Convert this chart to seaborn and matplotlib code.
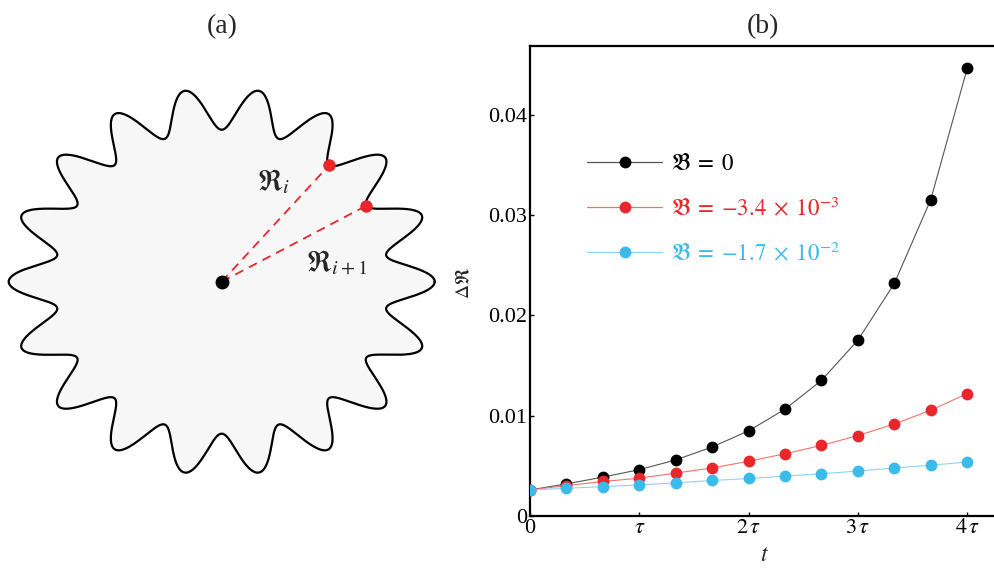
import numpy as np
import pandas as pd
import matplotlib
matplotlib.use("Agg")
import matplotlib.pyplot as plt
from matplotlib.lines import Line2D
import seaborn as sns

sns.set_theme(style="white")
plt.rcParams["font.family"] = ["Liberation Serif", "DejaVu Serif"]
plt.rcParams["mathtext.fontset"] = "stix"

# === data (b) ===
t_tau = [0, 1/3, 2/3, 1, 4/3, 5/3, 2, 7/3, 8/3, 3, 10/3, 11/3, 4]
dR_b0 = [0.00260, 0.00320, 0.00388, 0.00462, 0.00559, 0.00688, 0.00849,
         0.01065, 0.01352, 0.01753, 0.02319, 0.03155, 0.04462]
dR_b1 = [0.00260, 0.00303, 0.00344, 0.00377, 0.00428, 0.00479, 0.00546,
         0.00620, 0.00704, 0.00802, 0.00917, 0.01055, 0.01220]
dR_b2 = [0.00260, 0.00276, 0.00293, 0.00310, 0.00330, 0.00354, 0.00374,
         0.00398, 0.00421, 0.00448, 0.00479, 0.00506, 0.00539]
labels = [r"$\mathfrak{B}\;=\;0$",
          r"$\mathfrak{B}\;=\;{-}3.4\;\times\;10^{-3}$",
          r"$\mathfrak{B}\;=\;{-}1.7\;\times\;10^{-2}$"]
colors = ["#000000", "#E8262B", "#3CBBEA"]
line_colors = ["#555555", "#F2726A", "#8DD4F2"]
xtick_vals = [0, 1, 2, 3, 4]
xtick_labels = ["0", r"$\tau$", r"$2\,\tau$", r"$3\,\tau$", r"$4\,\tau$"]
ytick_vals = [0, 0.01, 0.02, 0.03, 0.04]
ytick_labels = ["0", "0.01", "0.02", "0.03", "0.04"]

# === schematic (a) ===
n_lobes = 18
r_tip, r_valley = 213, 167     # px
y_squash = 0.91
center = (221.7, 281.7)
probe_angles = [50, 30]        # deg, R_i and R_{i+1}

W, H = 994, 569
fig = plt.figure(figsize=(W / 100, H / 100), dpi=100)

# ---------- panel (a) ----------
axa = fig.add_axes([0, 0, 450 / W, 1])
axa.set_xlim(0, 450)
axa.set_ylim(H, 0)
axa.axis("off")

def radius(th):
    return (r_tip + r_valley) / 2 + (r_tip - r_valley) / 2 * np.cos(n_lobes * th)

th = np.linspace(0, 2 * np.pi, 3000)
r = radius(th)
xs = center[0] + r * np.cos(th)
ys = center[1] - y_squash * r * np.sin(th)
axa.fill(xs, ys, color="#F7F7F7", zorder=1)
axa.plot(xs, ys, color="black", lw=1.6, zorder=2)

for ang in probe_angles:
    a = np.deg2rad(ang)
    rp = radius(a)
    px = center[0] + rp * np.cos(a)
    py = center[1] - y_squash * rp * np.sin(a)
    axa.plot([center[0], px], [center[1], py], color="#E8262B", lw=1.3,
             dashes=(5, 3.5), zorder=3)
    axa.plot(px, py, "o", color="#E8262B", ms=9, mew=0, zorder=4)
axa.plot(center[0], center[1], "o", color="black", ms=10, mew=0, zorder=5)

axa.text(257, 182, r"$\mathfrak{R}_i$", fontsize=21, ha="left", va="center")
axa.text(306, 262, r"$\mathfrak{R}_{i+1}$", fontsize=21, ha="left", va="center")

# ---------- panel (b) ----------
left, bottom, top = 530, 516, 45.7
right = 1000
axb = fig.add_axes([left / W, (H - bottom) / H, (right - left) / W, (bottom - top) / H])

df = pd.DataFrame({
    "t": t_tau * 3,
    "dR": dR_b0 + dR_b1 + dR_b2,
    "B": [labels[0]] * len(t_tau) + [labels[1]] * len(t_tau) + [labels[2]] * len(t_tau),
})
sns.lineplot(data=df, x="t", y="dR", hue="B", palette=dict(zip(labels, colors)),
             marker="o", markersize=8.5, markeredgewidth=0, linewidth=0.8,
             ax=axb, legend=False, zorder=3)
# thin lines look lighter than the dots
for ln, lc, mc in zip(axb.lines, line_colors, colors):
    ln.set_color(lc)
    ln.set_markerfacecolor(mc)
    ln.set_markeredgecolor(mc)

px_per_tau = 109.3
axb.set_xlim(0, (right - left) / px_per_tau)
axb.set_ylim(0, (bottom - top) / 100.3 * 0.01)
axb.set_xticks(xtick_vals)
axb.set_xticklabels(xtick_labels)
axb.set_yticks(ytick_vals)
axb.set_yticklabels(ytick_labels)
axb.tick_params(direction="in", length=3, width=1, labelsize=16, pad=2,
                left=True, bottom=True, colors="black")
for s in ["left", "bottom", "top"]:
    axb.spines[s].set_linewidth(1.6)
    axb.spines[s].set_color("black")
axb.spines["right"].set_visible(False)
axb.set_xlabel(r"$t$", fontsize=17, labelpad=5)
axb.set_ylabel(r"$\Delta\mathfrak{R}$", fontsize=14)
axb.yaxis.set_label_coords(-0.121, (516 - 283) / (bottom - top))

handles = [Line2D([0], [0], color=lc, lw=0.9, marker="o", ms=8.5, mew=0,
                  markerfacecolor=c) for c, lc in zip(colors, line_colors)]
leg = axb.legend(handles, labels, loc="upper left", bbox_to_anchor=(0.121, 0.77),
                 frameon=False, fontsize=16.5, handlelength=3.3, handletextpad=0.35,
                 labelspacing=0.95, borderpad=0, borderaxespad=0)
for txt, c in zip(leg.get_texts(), colors):
    txt.set_color(c)

fig.text(222 / W, 1 - 27 / H, "(a)", fontsize=20, ha="center", va="center")
fig.text(763 / W, 1 - 27 / H, "(b)", fontsize=20, ha="center", va="center")

fig.savefig("out.png", dpi=100)
